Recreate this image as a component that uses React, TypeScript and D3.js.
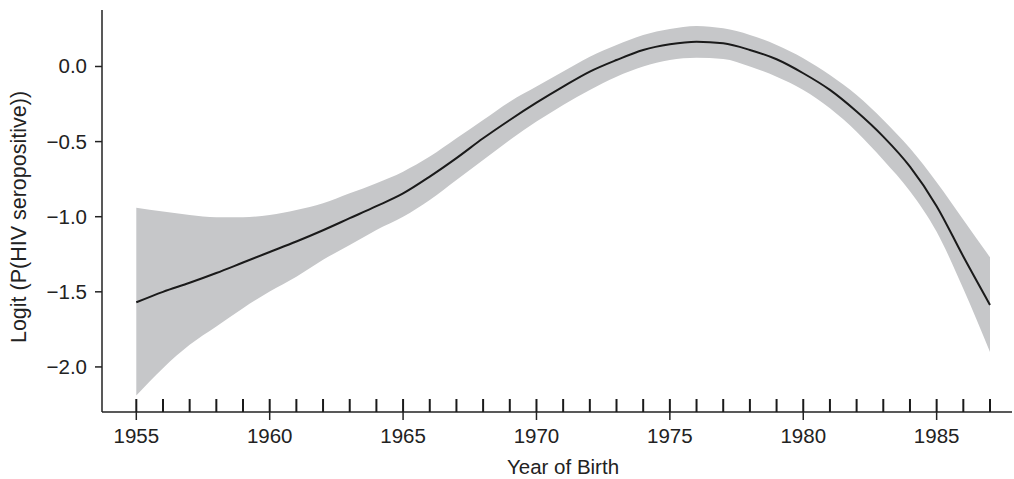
import * as d3 from 'd3'

// fitted smooth of logit P(HIV seropositive) by year of birth, with pointwise band
const years = [1955, 1956, 1957, 1958, 1959, 1960, 1961, 1962, 1963, 1964, 1965, 1966, 1967, 1968, 1969, 1970, 1971, 1972, 1973, 1974, 1975, 1976, 1977, 1978, 1979, 1980, 1981, 1982, 1983, 1984, 1985, 1986, 1987]
const fit = [-1.57, -1.5, -1.44, -1.375, -1.305, -1.235, -1.165, -1.09, -1.01, -0.93, -0.845, -0.733, -0.61, -0.478, -0.356, -0.241, -0.134, -0.034, 0.043, 0.11, 0.148, 0.165, 0.154, 0.11, 0.048, -0.045, -0.156, -0.3, -0.467, -0.667, -0.93, -1.265, -1.587]
const upper = [-0.94, -0.966, -0.988, -1.003, -1.003, -0.988, -0.955, -0.91, -0.844, -0.777, -0.7, -0.6, -0.478, -0.356, -0.234, -0.134, -0.034, 0.065, 0.143, 0.21, 0.25, 0.27, 0.254, 0.21, 0.143, 0.055, -0.057, -0.19, -0.356, -0.545, -0.77, -1.02, -1.27]
const lower = [-2.19, -2.008, -1.853, -1.731, -1.609, -1.498, -1.4, -1.287, -1.188, -1.088, -1.0, -0.888, -0.755, -0.622, -0.489, -0.367, -0.256, -0.156, -0.068, 0.0, 0.043, 0.058, 0.05, 0.0, -0.068, -0.156, -0.278, -0.434, -0.622, -0.83, -1.1, -1.48, -1.9]

// observed birth years (rug)
const rugYears = years
const xTicks = [1955, 1960, 1965, 1970, 1975, 1980, 1985]
const yTicks = [0, -0.5, -1, -1.5, -2]

const W = 1014
const H = 479
const left = 102
const right = 1012
const top = 10
const bottom = 412

const font = '"Liberation Sans", Arial, sans-serif'
const fs = 20.5

export default function App() {
  const x = d3.scaleLinear().domain([1955, 1987]).range([136.3, 990])
  const y = d3.scaleLinear().domain([-2.3, 0.376]).range([bottom, top])

  const rows = years.map((yr, i) => ({ yr, fit: fit[i], lo: lower[i], hi: upper[i] }))

  const area = d3.area<{ yr: number; lo: number; hi: number }>()
    .x(d => x(d.yr))
    .y0(d => y(d.lo))
    .y1(d => y(d.hi))
    .curve(d3.curveMonotoneX)

  const line = d3.line<{ yr: number; fit: number }>()
    .x(d => x(d.yr))
    .y(d => y(d.fit))
    .curve(d3.curveMonotoneX)

  const fmt = (v: number) => (v < 0 ? '\u2212' : '') + Math.abs(v).toFixed(1)

  return (
    <svg width={W} height={H} style={{ position: 'absolute', left: 0, top: 0, background: '#fff' }}>
      <path d={area(rows) || ''} fill="#c6c7c9" stroke="none" />
      <path d={line(rows) || ''} fill="none" stroke="#1a1a1a" strokeWidth={2} />

      {/* axes */}
      <line x1={left} x2={left} y1={top} y2={bottom} stroke="#222" strokeWidth={1.5} />
      <line x1={left} x2={right} y1={bottom} y2={bottom} stroke="#222" strokeWidth={1.5} />

      {/* rug */}
      {rugYears.map(yr => (
        <line key={'r' + yr} x1={x(yr)} x2={x(yr)} y1={399} y2={bottom} stroke="#1a1a1a" strokeWidth={2} />
      ))}

      {/* x ticks */}
      {xTicks.map(t => (
        <g key={'x' + t}>
          <line x1={x(t)} x2={x(t)} y1={bottom} y2={420} stroke="#222" strokeWidth={1.5} />
          <text x={x(t)} y={443} textAnchor="middle" fontFamily={font} fontSize={fs} fill="#222">{t}</text>
        </g>
      ))}

      {/* y ticks */}
      {yTicks.map(t => (
        <g key={'y' + t}>
          <line x1={95} x2={left} y1={y(t)} y2={y(t)} stroke="#222" strokeWidth={1.5} />
          <text x={87} y={y(t) + 7} textAnchor="end" fontFamily={font} fontSize={fs} fill="#222">{fmt(t)}</text>
        </g>
      ))}

      <text x={563} y={474} textAnchor="middle" fontFamily={font} fontSize={fs} fill="#222">Year of Birth</text>
      <text transform="translate(26,217) rotate(-90)" textAnchor="middle" fontFamily={font} fontSize={21.5} fill="#222">
        Logit (P(HIV seropositive))
      </text>
    </svg>
  )
}
